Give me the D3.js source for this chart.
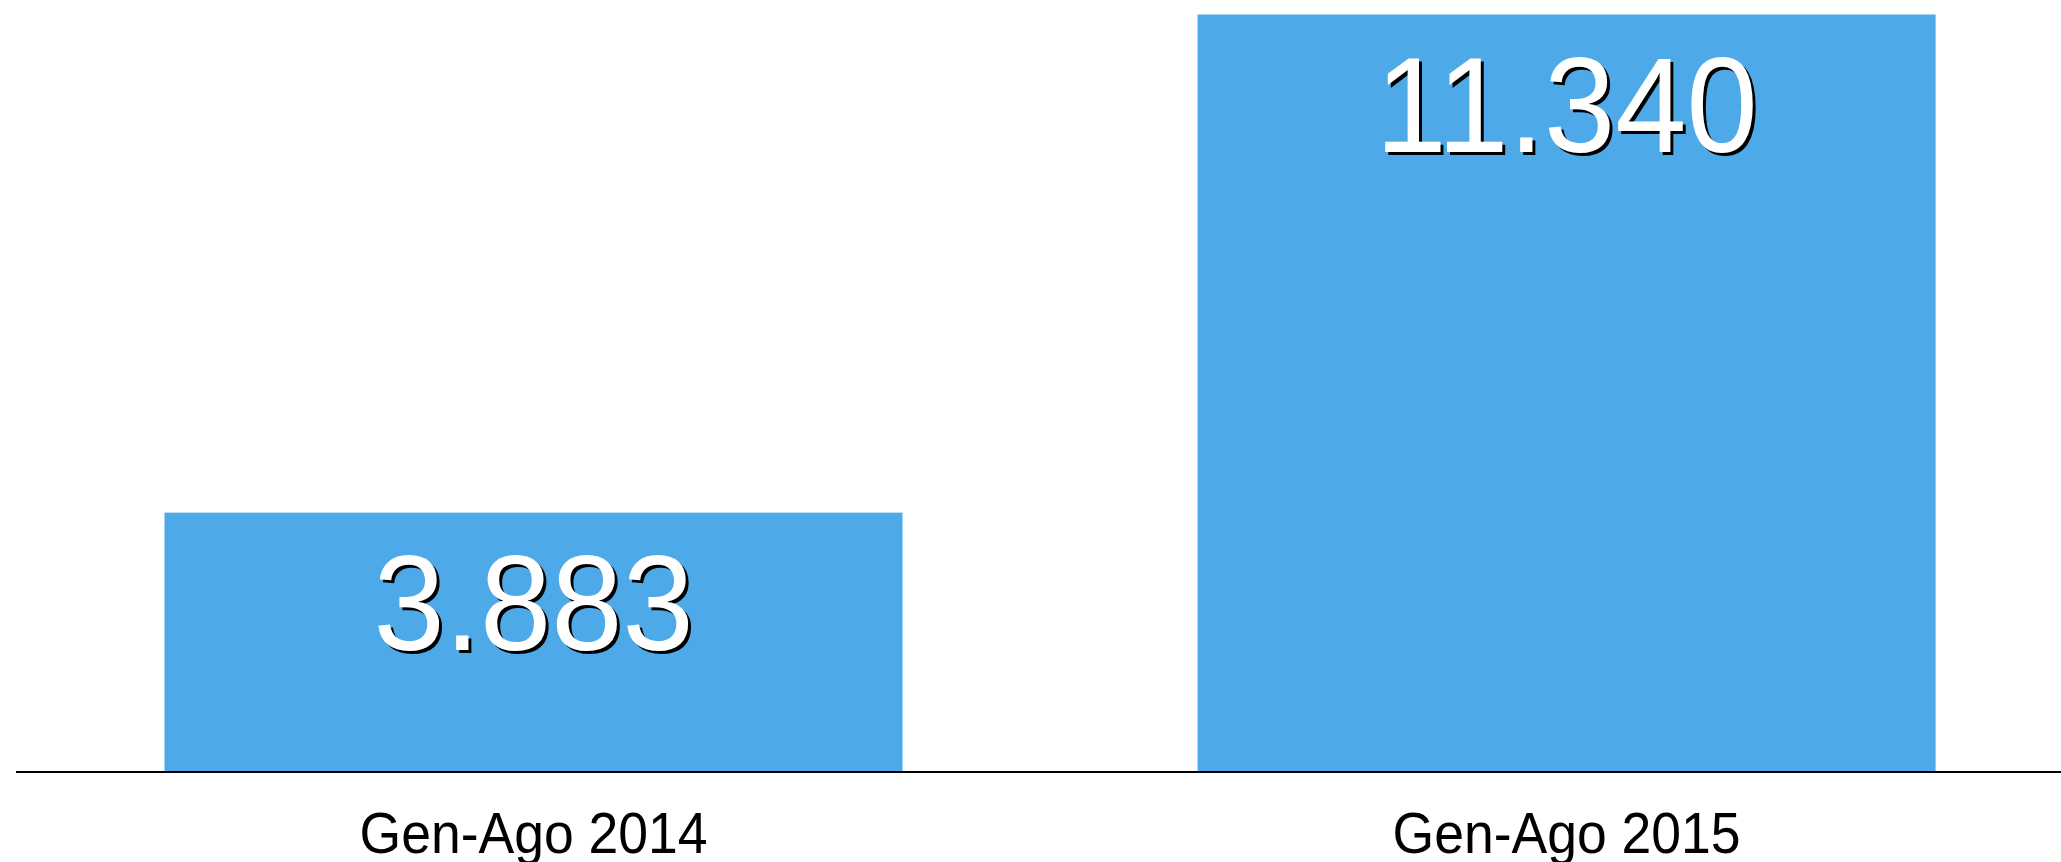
<!DOCTYPE html>
<html>
<head>
<meta charset="utf-8">
<script src="https://cdn.jsdelivr.net/npm/d3@7"></script>
<style>
  html, body { margin: 0; padding: 0; background: #ffffff; }
  svg { display: block; }
</style>
</head>
<body>
<svg id="chart" width="2061" height="862"></svg>
<script>
// Periodi confrontati e valori
const categories = ["Gen-Ago 2014", "Gen-Ago 2015"];
const values = [3883, 11340];
const valueLabels = ["3.883", "11.340"];

const W = 2061, H = 862;
const baseY = 772;
const barColor = "#4DA9E7";
const font = "'Liberation Sans', Arial, sans-serif";

const svg = d3.select("#chart");

const x = d3.scaleBand()
  .domain(categories)
  .range([164.5, 1935.6])
  .paddingInner(0.2856)
  .paddingOuter(0);

const y = d3.scaleLinear()
  .domain([0, d3.max(values)])
  .range([baseY, 14.5]);

const data = categories.map((c, i) => ({ cat: c, value: values[i], label: valueLabels[i] }));

// barre
svg.selectAll("rect.bar")
  .data(data)
  .enter().append("rect")
  .attr("class", "bar")
  .attr("x", d => x(d.cat))
  .attr("y", d => y(d.value))
  .attr("width", x.bandwidth())
  .attr("height", d => baseY - y(d.value))
  .attr("fill", barColor);

// asse orizzontale con etichette delle categorie (leggermente allungate in verticale)
const catScaleY = 1.07;
const xAxis = d3.axisBottom(x).tickSize(0).tickPadding(0);
const gx = svg.append("g")
  .attr("transform", `translate(0,${baseY})`)
  .call(xAxis);
gx.select(".domain").remove();
gx.selectAll(".tick text")
  .attr("y", 81 / catScaleY)
  .attr("dy", null)
  .attr("transform", `scale(1,${catScaleY})`)
  .attr("fill", "#000")
  .style("font-family", font)
  .style("font-size", "53.5px");

svg.append("line")
  .attr("x1", 16).attr("x2", W)
  .attr("y1", baseY).attr("y2", baseY)
  .attr("stroke", "#000")
  .attr("stroke-width", 2);

// etichette dei valori con ombra
const labelTop = 40; // distanza dall'alto della barra alla cima delle cifre
const fs = 128;
const valScaleY = 1.06;
const g = svg.selectAll("g.val")
  .data(data)
  .enter().append("g")
  .attr("class", "val")
  .attr("transform", d => `translate(${x(d.cat) + x.bandwidth() / 2},${y(d.value) + labelTop + fs * 0.716 * valScaleY}) scale(1,${valScaleY})`);

g.append("text")
  .attr("x", 3).attr("y", 3)
  .attr("text-anchor", "middle")
  .attr("fill", "#000")
  .style("font-family", font)
  .style("font-size", fs + "px")
  .text(d => d.label);

g.append("text")
  .attr("x", 0).attr("y", 0)
  .attr("text-anchor", "middle")
  .attr("fill", "#fff")
  .style("font-family", font)
  .style("font-size", fs + "px")
  .text(d => d.label);
</script>
</body>
</html>
